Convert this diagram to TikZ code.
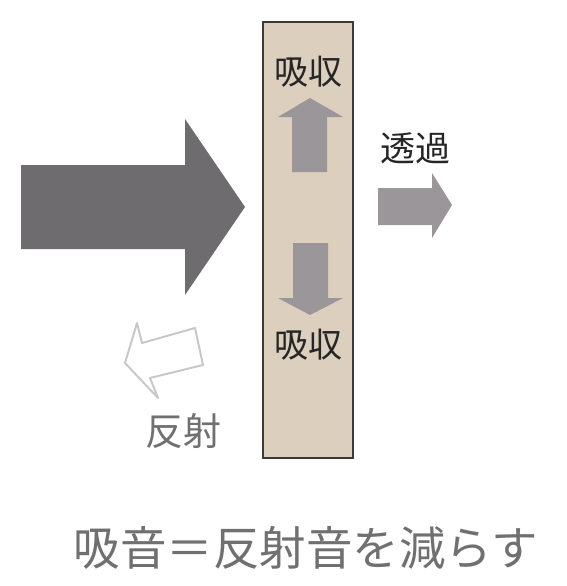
\documentclass[tikz,border=0pt]{standalone}
\usepackage{fontspec}
\newfontfamily\jpfont{Noto Sans CJK JP}
\usetikzlibrary{positioning}

\definecolor{wallfill}{RGB}{220,207,189}
\definecolor{walledge}{RGB}{60,58,56}
\definecolor{bigarrow}{RGB}{110,108,111}
\definecolor{midarrow}{RGB}{154,150,154}
\definecolor{lightedge}{RGB}{200,200,200}
\definecolor{softtext}{RGB}{112,112,112}

\begin{document}
\begin{tikzpicture}[x=1pt,y=-1pt]
		\tikzstyle{label dark}=[text=black!85, font=\jpfont\fontsize{34}{34}\selectfont, inner sep=0pt]
		\tikzstyle{label soft}=[text=softtext, font=\jpfont\fontsize{38}{38}\selectfont, inner sep=0pt]
		\tikzstyle{arrow mid}=[fill=midarrow]

		\useasboundingbox (0,0) rectangle (566,586);

		% incoming sound
		\fill[bigarrow] (21,165) -- (185,165) -- (185,119) -- (245,207) -- (185,295) -- (185,249) -- (21,249) -- cycle;

		% wall
		\draw[walledge, line width=1.2pt, fill=wallfill] (263,22) rectangle (353,458);
		\fill[arrow mid] (292,172) -- (292,117) -- (278,117) -- (310,98) -- (343,117) -- (327,117) -- (327,172) -- cycle;
		\fill[arrow mid] (293,243) -- (293,298) -- (278,298) -- (310,315) -- (343,298) -- (328,298) -- (328,243) -- cycle;
		\node[label dark] (abs1) at (308,72) {吸収};
		\node[label dark] (abs2) at (308,345) {吸収};

		% transmitted
		\fill[arrow mid] (378,188) -- (432,188) -- (432,173) -- (452,205) -- (432,238) -- (432,225) -- (378,225) -- cycle;
		\node[label dark, font=\jpfont\fontsize{35}{35}\selectfont] (trans) at (415,148) {透過};

		% reflected
		\draw[lightedge, line width=2pt, line join=round] (125,363) -- (137,323) -- (142,343) -- (195,328) -- (203,365) -- (150,378) -- (158,398) -- cycle;
		\node[label soft] (refl) at (183,431) {反射};

		\node[label soft, font=\jpfont\fontsize{46.5}{46.5}\selectfont] (summary) at (306,548) {吸音＝反射音を減らす};
	\end{tikzpicture}
\end{document}
